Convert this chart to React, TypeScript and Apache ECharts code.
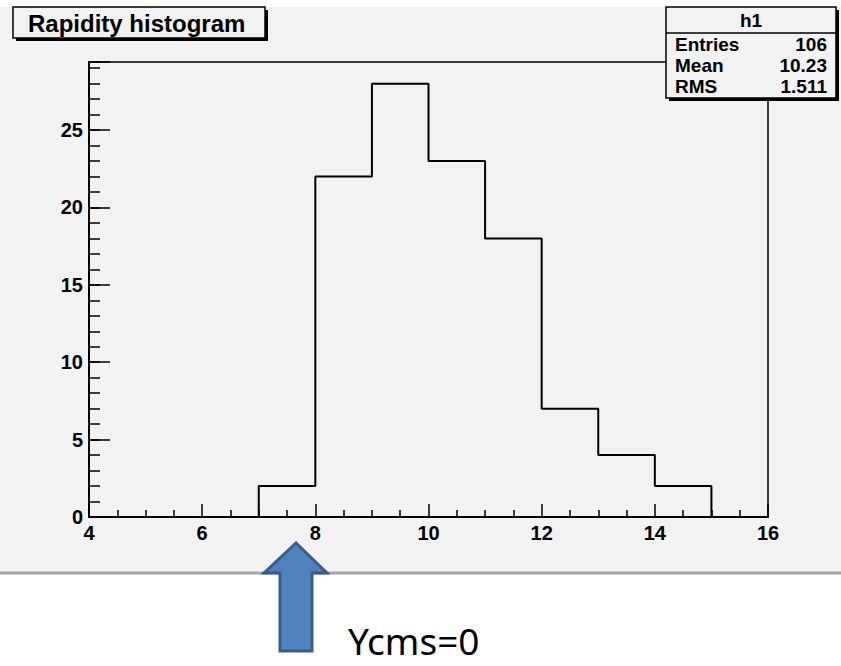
import React, { useEffect, useRef } from "react";
import * as echarts from "echarts";

const binEdges = [4, 5, 6, 7, 8, 9, 10, 11, 12, 13, 14, 15, 16];
const counts = [0, 0, 0, 2, 22, 28, 23, 18, 7, 4, 2, 0];
const xMin = 4;
const xMax = 16;
const yMax = 29.4;
const titleText = "Rapidity histogram";
const histName = "h1";
const statsLabels = ["Entries", "Mean", "RMS"];
const statsValues = ["106", "10.23", "1.511"];
const annotationText = "Ycms=0";

const FONT = "'Liberation Sans', Arial, Helvetica, sans-serif";

export default function App() {
  const ref = useRef<HTMLDivElement>(null);
  useEffect(() => {
    if (!ref.current) return;
    const chart = echarts.init(ref.current, undefined, { renderer: "svg" });
    const data: number[][] = counts.map((c, i) => [binEdges[i], c]);
    data.push([binEdges[binEdges.length - 1], 0]);

    const statsRowsY = [44, 65, 86];
    const statsGraphics: any[] = [];
    statsLabels.forEach((lab, i) => {
      statsGraphics.push({
        type: "text", z: 102,
        style: { text: lab, x: 675, y: statsRowsY[i], fontFamily: FONT, fontWeight: "bold", fontSize: 19, fill: "#000", align: "left", verticalAlign: "middle" },
      });
      statsGraphics.push({
        type: "text", z: 102,
        style: { text: statsValues[i], x: 827, y: statsRowsY[i], fontFamily: FONT, fontWeight: "bold", fontSize: 19, fill: "#000", align: "right", verticalAlign: "middle" },
      });
    });

    const axisLineStyle = { color: "#000", width: 2 };
    const tickStyle = { color: "#000", width: 1.5 };

    const option: any = {
      animation: false,
      backgroundColor: "#ffffff",
      grid: {
        left: 89, right: 73, top: 62, bottom: 149,
        show: true, borderColor: "#000", borderWidth: 1.5,
        backgroundColor: "transparent", containLabel: false, outerBoundsMode: "none",
      },
      xAxis: [{
        type: "value", min: xMin, max: xMax, interval: 2,
        axisLine: { show: true, onZero: false, lineStyle: axisLineStyle },
        axisTick: { show: true, inside: true, length: 13, lineStyle: tickStyle },
        minorTick: { show: true, splitNumber: 4, length: 7, lineStyle: tickStyle },
        splitLine: { show: false }, minorSplitLine: { show: false },
        axisLabel: { color: "#000", fontFamily: FONT, fontWeight: "bold", fontSize: 20, margin: 6 },
      }],
      yAxis: [
        {
          type: "value", min: 0, max: yMax, interval: 5, position: "left",
          axisLine: { show: true, onZero: false, lineStyle: axisLineStyle },
          axisTick: { show: true, inside: true, length: 21, lineStyle: tickStyle },
          splitLine: { show: false },
          axisLabel: {
            color: "#000", fontFamily: FONT, fontWeight: "bold", fontSize: 20, margin: 6,
            formatter: (v: number) => (v % 5 === 0 ? String(v) : ""),
          },
        },
        {
          type: "value", min: 0, max: yMax, interval: 1, position: "left", offset: 0,
          axisLine: { show: false },
          axisTick: { show: true, inside: true, length: 11, lineStyle: tickStyle },
          splitLine: { show: false },
          axisLabel: { show: false },
        },
      ],
      series: [{
        type: "line", step: "end", data, symbol: "none", showSymbol: false,
        xAxisIndex: 0, yAxisIndex: 0,
        lineStyle: { color: "#000", width: 2 }, z: 5,
      }],
      graphic: [
        { type: "rect", z: -100, silent: true, shape: { x: 0, y: 7, width: 841, height: 565 }, style: { fill: "#f2f2f2" } },
        { type: "line", z: -99, silent: true, shape: { x1: 0, y1: 573, x2: 841, y2: 573 }, style: { stroke: "#a6a6a6", lineWidth: 3 } },
        // title box
        { type: "rect", z: 100, shape: { x: 16, y: 10, width: 252, height: 31 }, style: { fill: "#000" } },
        { type: "rect", z: 101, shape: { x: 13, y: 7, width: 252, height: 31 }, style: { fill: "#f2f2f2", stroke: "#000", lineWidth: 1.5 } },
        { type: "text", z: 102, style: { text: titleText, x: 28, y: 23, fontFamily: FONT, fontWeight: "bold", fontSize: 24, fill: "#000", align: "left", verticalAlign: "middle" } },
        // stats box
        { type: "rect", z: 100, shape: { x: 669, y: 10, width: 170, height: 91 }, style: { fill: "#000" } },
        { type: "rect", z: 101, shape: { x: 666, y: 7, width: 170, height: 91 }, style: { fill: "#f2f2f2", stroke: "#000", lineWidth: 1.5 } },
        { type: "line", z: 102, shape: { x1: 666, y1: 33, x2: 836, y2: 33 }, style: { stroke: "#000", lineWidth: 1.5 } },
        { type: "text", z: 102, style: { text: histName, x: 751, y: 20, fontFamily: FONT, fontWeight: "bold", fontSize: 19, fill: "#000", align: "center", verticalAlign: "middle" } },
        ...statsGraphics,
        // arrow
        {
          type: "polygon", z: 110,
          shape: { points: [[296, 543], [327, 573], [312, 573], [312, 651], [280, 651], [280, 573], [264, 573]] },
          style: { fill: "#4f81bd", stroke: "#385d8a", lineWidth: 3 },
        },
        { type: "text", z: 110, style: { text: annotationText, x: 348, y: 640, fontFamily: "'Noto Sans', 'Open Sans', sans-serif", fontSize: 37, lineHeight: 37, fill: "#000", align: "left", verticalAlign: "middle" } },
      ],
    };
    chart.setOption(option);
    return () => chart.dispose();
  }, []);
  return <div ref={ref} style={{ position: "absolute", left: 0, top: 0, width: 841, height: 666 }} />;
}
